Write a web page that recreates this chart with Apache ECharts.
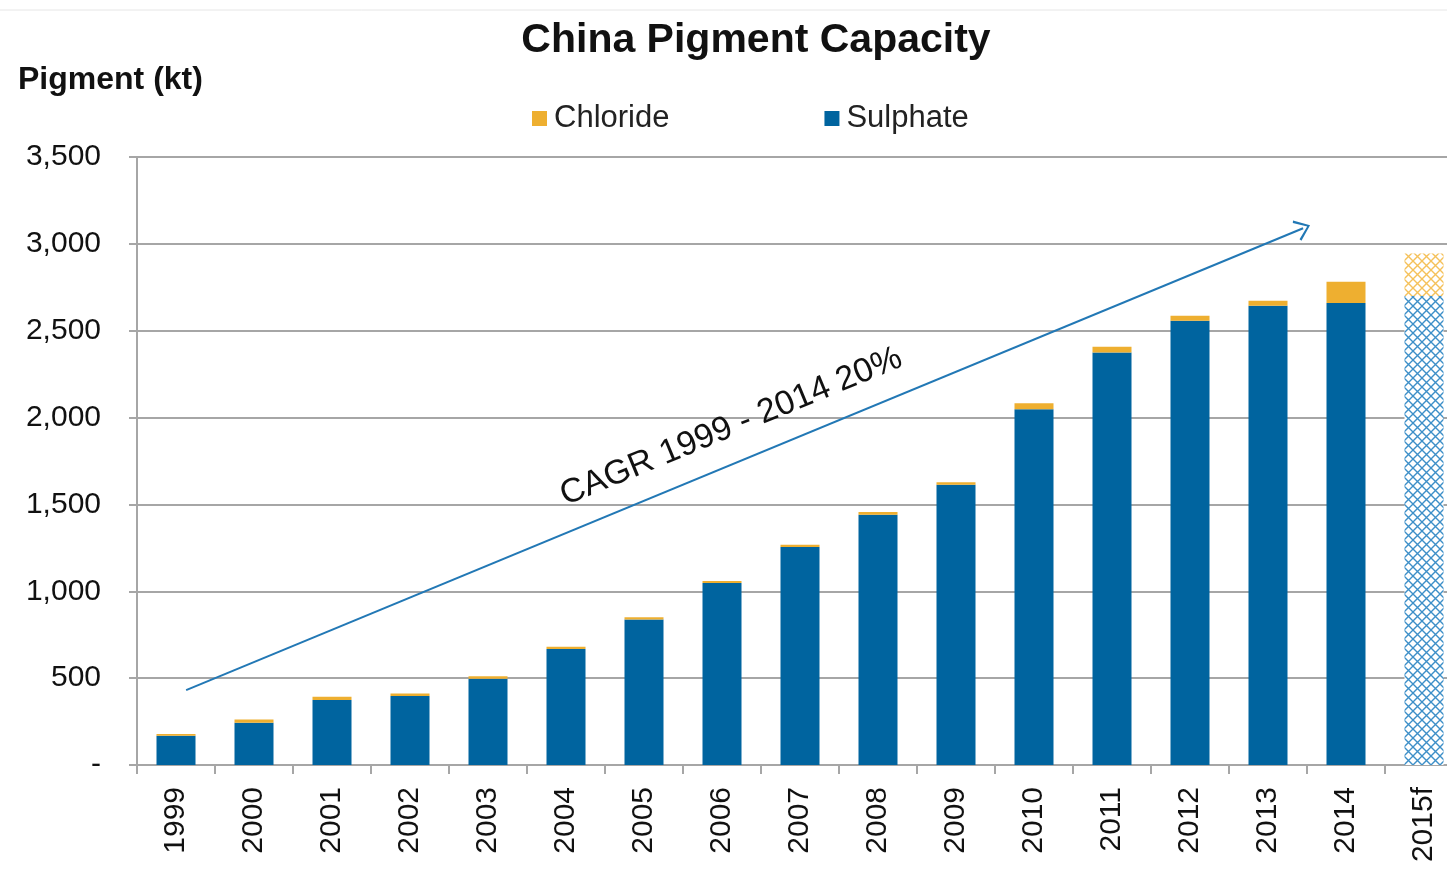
<!DOCTYPE html>
<html>
<head>
<meta charset="utf-8">
<script src="https://cdn.jsdelivr.net/npm/echarts@6/dist/echarts.min.js"></script>
<style>
html,body{margin:0;padding:0;background:#fff;}
#chart{width:1447px;height:877px;}
</style>
</head>
<body>
<div id="chart"></div>
<script>
// ---- data ----
const categories = ['1999','2000','2001','2002','2003','2004','2005','2006','2007','2008','2009','2010','2011','2012','2013','2014','2015f'];
const sulphate = [168, 243, 374, 397, 496, 668, 837, 1048, 1255, 1441, 1613, 2048, 2375, 2557, 2644, 2659, 2700];
const chloride = [11, 19, 19, 15, 15, 12, 14, 11, 13, 15, 15, 34, 33, 29, 28, 123, 244];
const forecastIndex = 16;
const yTicks = [0, 500, 1000, 1500, 2000, 2500, 3000, 3500];
// CAGR arrow annotation, in (category index, kt)
const arrowStart = [0.13, 431];
const arrowEnd = [14.45, 3090];
const cagrLabel = 'CAGR 1999 - 2014 20%';

const BLUE = '#00649f';
const ORANGE = '#eeaf30';
const GRID = '#a6a6a6';
const FONT = "'Liberation Sans', Arial, sans-serif";

function hatch(color) {
  const s = 9;
  const c = document.createElement('canvas');
  c.width = s; c.height = s;
  const g = c.getContext('2d');
  g.fillStyle = '#fff';
  g.fillRect(0, 0, s, s);
  g.strokeStyle = color;
  g.lineWidth = 1.4;
  g.beginPath();
  g.moveTo(-1, -1); g.lineTo(s + 1, s + 1);
  g.moveTo(s + 1, -1); g.lineTo(-1, s + 1);
  g.stroke();
  return { image: c, repeat: 'repeat' };
}

const sulData = sulphate.map((v, i) => i === forecastIndex ? { value: v, itemStyle: { color: hatch('#3d8fc8') } } : v);
const chlData = chloride.map((v, i) => i === forecastIndex ? { value: v, itemStyle: { color: hatch('#f5c15a') } } : v);

const chart = echarts.init(document.getElementById('chart'), null, { renderer: 'canvas' });
chart.setOption({
  animation: false,
  backgroundColor: '#fff',
  textStyle: { fontFamily: FONT },
  title: [
    { text: 'China Pigment Capacity', left: 751, top: 15, textAlign: 'center',
      textStyle: { fontFamily: FONT, fontSize: 41, fontWeight: 'bold', color: '#111' } },
    { text: 'Pigment (kt)', left: 13, top: 59,
      textStyle: { fontFamily: FONT, fontSize: 32, fontWeight: 'bold', color: '#111' } }
  ],
  legend: {
    data: ['Chloride', 'Sulphate'],
    left: 527, top: 98,
    itemWidth: 15, itemHeight: 15, itemGap: 155,
    icon: 'rect',
    textStyle: { fontFamily: FONT, fontSize: 31, color: '#222', padding: [0, 0, 0, 2] }
  },
  graphic: [
    { type: 'line', shape: { x1: 0, y1: 10, x2: 1447, y2: 10 }, style: { stroke: '#e6e6e6', lineWidth: 1 } }
  ],
  grid: { left: 137, top: 157, width: 1326, height: 608, outerBoundsMode: 'none', containLabel: false },
  xAxis: [
    {
      type: 'category', data: categories,
      axisLine: { lineStyle: { color: GRID, width: 2 } },
      axisTick: { show: true, length: 9, lineStyle: { color: GRID, width: 2 } },
      axisLabel: { rotate: 90, margin: 22, fontSize: 30, color: '#111', fontFamily: FONT, interval: 0 }
    },
    { type: 'value', min: -0.5, max: 16.5, show: false }
  ],
  yAxis: {
    type: 'value', min: 0, max: 3500, interval: 500,
    axisLine: { show: true, onZero: false, lineStyle: { color: GRID, width: 2 } },
    axisTick: { show: true, length: 8, lineStyle: { color: GRID, width: 2 } },
    splitLine: { lineStyle: { color: GRID, width: 2 } },
    axisLabel: {
      margin: 36, fontSize: 30, color: '#111', fontFamily: FONT,
      formatter: v => yTicks.indexOf(v) >= 0 ? (v === 0 ? '-' : v.toLocaleString('en-US')) : ''
    }
  },
  series: [
    { name: 'Sulphate', type: 'bar', stack: 'cap', data: sulData, barWidth: 39,
      itemStyle: { color: BLUE } },
    { name: 'Chloride', type: 'bar', stack: 'cap', data: chlData, barWidth: 39,
      itemStyle: { color: ORANGE } },
    { name: 'cagr', type: 'line', xAxisIndex: 1, data: [], silent: true,
      markLine: {
        silent: true,
        symbol: ['none', 'path://M10,0 L20,18 L18,19.5 L10,4 L2,19.5 L0,18 Z'],
        symbolSize: [22, 15],
        lineStyle: { color: '#2278b5', width: 2, type: 'solid' },
        label: { show: true, position: 'insideMiddleTop', distance: 18, formatter: cagrLabel,
                 fontSize: 34, color: '#111', fontFamily: FONT },
        data: [[{ coord: arrowStart }, { coord: arrowEnd }]]
      }
    }
  ]
});
</script>
</body>
</html>
